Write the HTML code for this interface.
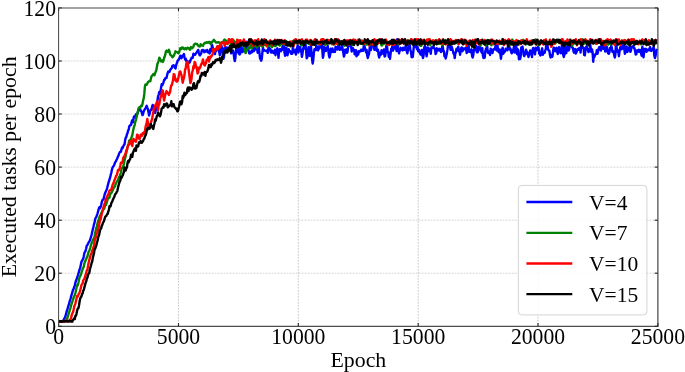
<!DOCTYPE html>
<html><head><meta charset="utf-8"><title>Executed tasks per epoch</title>
<style>html,body{margin:0;padding:0;background:#fff}svg{display:block}text{font-family:"Liberation Serif",serif;fill:#000}</style></head><body>
<svg width="685" height="372" viewBox="0 0 685 372">
<rect width="685" height="372" fill="#fff"/>
<g stroke="#bcbcbc" stroke-width="0.8" stroke-dasharray="1.8 1.2" fill="none"><line x1="178.46" y1="7.9" x2="178.46" y2="326.3"/><line x1="298.32" y1="7.9" x2="298.32" y2="326.3"/><line x1="418.18" y1="7.9" x2="418.18" y2="326.3"/><line x1="538.04" y1="7.9" x2="538.04" y2="326.3"/></g>
<g stroke="#c8c8c8" stroke-width="0.8" stroke-dasharray="1.8 1.2" fill="none"><line x1="58.6" y1="273.23" x2="657.9" y2="273.23"/><line x1="58.6" y1="220.17" x2="657.9" y2="220.17"/><line x1="58.6" y1="167.10" x2="657.9" y2="167.10"/><line x1="58.6" y1="114.03" x2="657.9" y2="114.03"/><line x1="58.6" y1="60.97" x2="657.9" y2="60.97"/></g>
<g clip-path="url(#c)"><polyline points="58.6,320.8 59.2,321.4 59.8,321.5 60.4,321.6 61.0,321.3 61.6,321.8 62.2,321.0 62.8,321.3 63.4,320.6 64.0,319.4 64.6,318.0 65.2,317.1 65.8,314.8 66.4,312.6 67.0,310.3 67.6,308.7 68.2,306.6 68.8,304.7 69.4,302.4 70.0,300.3 70.6,298.6 71.2,296.1 71.8,294.1 72.4,292.2 73.0,289.9 73.6,288.9 74.2,287.0 74.8,285.4 75.4,282.9 76.0,280.5 76.6,279.2 77.2,277.3 77.8,275.6 78.4,273.7 79.0,271.6 79.6,269.4 80.2,268.0 80.8,265.0 81.4,262.0 82.0,260.7 82.6,259.8 83.2,258.6 83.8,256.3 84.4,252.9 85.0,251.9 85.6,250.7 86.2,248.3 86.8,245.6 87.4,245.1 88.0,243.7 88.6,242.5 89.2,241.7 89.8,240.7 90.4,238.8 91.0,236.9 91.6,234.7 92.2,231.9 92.8,229.3 93.4,227.0 94.0,224.3 94.6,222.4 95.2,219.0 95.8,217.7 96.4,216.8 97.0,214.9 97.6,213.3 98.2,210.9 98.8,208.7 99.4,207.2 100.0,208.2 100.6,207.2 101.2,204.8 101.7,202.5 102.3,200.3 102.9,199.5 103.5,199.5 104.1,196.8 104.7,194.2 105.3,192.8 105.9,191.1 106.5,190.2 107.1,188.1 107.7,185.7 108.3,183.3 108.9,181.3 109.5,179.5 110.1,177.7 110.7,175.0 111.3,172.7 111.9,169.8 112.5,167.7 113.1,166.6 113.7,166.0 114.3,164.8 114.9,162.9 115.5,161.8 116.1,160.9 116.7,159.5 117.3,158.5 117.9,156.6 118.5,155.6 119.1,153.5 119.7,152.5 120.3,151.6 120.9,151.7 121.5,149.4 122.1,147.6 122.7,147.9 123.3,146.3 123.9,144.9 124.5,144.5 125.1,140.6 125.7,137.8 126.3,137.0 126.9,134.4 127.5,133.3 128.1,130.6 128.7,129.6 129.3,126.2 129.9,125.4 130.5,125.3 131.1,124.8 131.7,121.5 132.3,120.3 132.9,122.3 133.5,118.6 134.1,116.4 134.7,117.0 135.3,117.2 135.9,114.4 136.5,113.9 137.1,113.8 137.7,113.1 138.3,110.2 138.9,108.8 139.5,108.9 140.1,108.4 140.7,111.0 141.3,111.1 141.9,113.0 142.5,115.1 143.1,113.9 143.7,111.5 144.3,110.1 144.9,109.2 145.5,108.4 146.1,107.1 146.7,105.8 147.3,107.6 147.9,109.0 148.5,112.2 149.1,115.5 149.7,113.4 150.3,110.7 150.9,110.2 151.5,108.9 152.1,106.8 152.7,104.9 153.3,106.8 153.9,109.6 154.5,111.2 155.1,112.9 155.7,110.5 156.3,107.3 156.9,103.4 157.5,100.3 158.1,96.3 158.7,94.6 159.3,92.0 159.9,94.0 160.5,91.7 161.1,87.4 161.7,84.3 162.3,85.2 162.9,84.0 163.5,82.4 164.1,80.0 164.7,79.8 165.3,78.3 165.9,78.2 166.5,77.9 167.1,75.1 167.7,73.0 168.3,71.5 168.9,72.1 169.5,71.9 170.1,70.0 170.7,69.2 171.3,68.5 171.9,67.7 172.5,65.7 173.1,66.1 173.7,65.2 174.3,66.1 174.9,67.8 175.5,68.5 176.1,65.4 176.7,63.5 177.3,61.7 177.9,60.3 178.5,60.2 179.1,58.6 179.7,58.2 180.3,55.7 180.9,57.8 181.5,58.2 182.1,57.0 182.7,55.4 183.3,55.7 183.9,54.1 184.5,57.2 185.1,59.4 185.7,58.5 186.3,61.0 186.9,62.5 187.4,61.1 188.0,61.7 188.6,63.1 189.2,62.4 189.8,62.4 190.4,60.1 191.0,59.4 191.6,57.7 192.2,58.1 192.8,57.7 193.4,53.6 194.0,54.6 194.6,54.8 195.2,54.7 195.8,53.7 196.4,52.7 197.0,52.1 197.6,50.9 198.2,49.9 198.8,52.6 199.4,54.8 200.0,55.4 200.6,54.1 201.2,53.5 201.8,50.4 202.4,50.2 203.0,50.0 203.6,50.4 204.2,52.2 204.8,52.0 205.4,50.6 206.0,50.9 206.6,51.4 207.2,49.9 207.8,52.3 208.4,52.0 209.0,52.2 209.6,53.5 210.2,49.3 210.8,50.0 211.4,51.0 212.0,44.8 212.6,46.9 213.2,49.1 213.8,51.7 214.4,51.6 215.0,54.1 215.6,49.4 216.2,50.8 216.8,49.4 217.4,46.6 218.0,48.5 218.6,49.2 219.2,52.1 219.8,55.3 220.4,49.6 221.0,44.8 221.6,46.5 222.2,47.9 222.8,55.5 223.4,58.8 224.0,56.8 224.6,48.1 225.2,49.2 225.8,47.1 226.4,52.0 227.0,52.2 227.6,49.8 228.2,47.6 228.8,49.4 229.4,49.8 230.0,50.1 230.6,50.7 231.2,53.4 231.8,51.1 232.4,50.9 233.0,50.4 233.6,53.4 234.2,57.9 234.8,61.0 235.4,57.9 236.0,50.2 236.6,48.6 237.2,52.2 237.8,48.0 238.4,45.1 239.0,53.8 239.6,54.5 240.2,53.8 240.8,50.7 241.4,46.0 242.0,49.8 242.6,52.0 243.2,49.6 243.8,50.9 244.4,47.4 245.0,47.8 245.6,46.7 246.2,49.2 246.8,41.6 247.4,45.5 248.0,48.0 248.6,50.7 249.2,53.2 249.8,53.6 250.4,52.1 251.0,52.7 251.6,50.8 252.2,52.2 252.8,48.6 253.4,47.8 254.0,51.0 254.6,47.8 255.2,49.5 255.8,47.0 256.4,47.6 257.0,47.7 257.6,52.7 258.2,50.5 258.8,46.9 259.4,52.7 260.0,58.2 260.6,59.4 261.2,60.7 261.8,58.7 262.4,52.3 263.0,47.5 263.6,50.7 264.2,50.0 264.8,50.6 265.4,50.7 266.0,51.1 266.6,50.8 267.2,50.2 267.8,52.9 268.4,47.8 269.0,47.3 269.6,49.9 270.2,48.9 270.8,52.4 271.4,52.5 272.0,50.6 272.6,51.3 273.1,52.5 273.7,53.2 274.3,52.0 274.9,49.7 275.5,55.2 276.1,51.1 276.7,50.5 277.3,48.3 277.9,50.6 278.5,57.8 279.1,50.7 279.7,49.2 280.3,50.6 280.9,51.3 281.5,48.8 282.1,49.9 282.7,45.2 283.3,46.1 283.9,44.6 284.5,52.6 285.1,55.7 285.7,49.2 286.3,47.6 286.9,51.0 287.5,55.3 288.1,52.5 288.7,49.2 289.3,50.7 289.9,51.1 290.5,51.8 291.1,53.7 291.7,53.7 292.3,53.7 292.9,46.7 293.5,50.2 294.1,50.1 294.7,52.4 295.3,50.1 295.9,54.5 296.5,49.0 297.1,48.2 297.7,45.2 298.3,52.5 298.9,50.7 299.5,48.2 300.1,46.7 300.7,50.5 301.3,51.8 301.9,56.9 302.5,53.7 303.1,48.6 303.7,46.8 304.3,48.6 304.9,43.1 305.5,43.6 306.1,50.7 306.7,58.3 307.3,57.4 307.9,52.7 308.5,47.1 309.1,49.8 309.7,55.9 310.3,50.9 310.9,45.7 311.5,52.1 312.1,59.5 312.7,63.6 313.3,59.5 313.9,52.6 314.5,49.1 315.1,49.8 315.7,50.1 316.3,45.8 316.9,46.9 317.5,49.7 318.1,50.4 318.7,46.5 319.3,48.6 319.9,47.6 320.5,45.7 321.1,45.2 321.7,43.5 322.3,49.9 322.9,57.8 323.5,54.9 324.1,46.7 324.7,49.3 325.3,49.3 325.9,51.0 326.5,47.6 327.1,48.9 327.7,46.0 328.3,50.2 328.9,55.1 329.5,57.5 330.1,55.1 330.7,48.6 331.3,52.0 331.9,52.1 332.5,48.5 333.1,51.3 333.7,52.0 334.3,51.7 334.9,51.9 335.5,46.8 336.1,47.1 336.7,49.4 337.3,49.6 337.9,47.1 338.5,43.5 339.1,46.1 339.7,49.8 340.3,47.8 340.9,49.5 341.5,48.9 342.1,44.6 342.7,49.8 343.3,52.6 343.9,56.5 344.5,54.7 345.1,49.8 345.7,50.9 346.3,49.4 346.9,52.9 347.5,52.1 348.1,47.1 348.7,44.4 349.3,45.9 349.9,44.5 350.5,43.0 351.1,46.0 351.7,51.5 352.3,50.1 352.9,48.1 353.5,50.0 354.1,49.7 354.7,54.4 355.3,52.7 355.9,50.2 356.5,56.4 357.1,54.4 357.7,51.6 358.2,54.5 358.8,51.2 359.4,52.0 360.0,51.2 360.6,50.4 361.2,49.6 361.8,51.0 362.4,50.1 363.0,50.8 363.6,47.2 364.2,44.1 364.8,47.7 365.4,49.8 366.0,52.3 366.6,50.0 367.2,55.5 367.8,58.0 368.4,55.5 369.0,54.1 369.6,48.3 370.2,45.0 370.8,50.0 371.4,48.3 372.0,43.7 372.6,45.0 373.2,45.9 373.8,45.7 374.4,49.9 375.0,47.1 375.6,43.9 376.2,44.5 376.8,50.9 377.4,50.6 378.0,49.8 378.6,55.1 379.2,57.5 379.8,55.1 380.4,52.4 381.0,54.7 381.6,50.1 382.2,51.0 382.8,53.1 383.4,53.9 384.0,49.4 384.6,56.5 385.2,56.2 385.8,50.7 386.4,45.3 387.0,45.7 387.6,52.1 388.2,52.0 388.8,56.8 389.4,54.7 390.0,58.8 390.6,53.7 391.2,48.9 391.8,48.4 392.4,46.1 393.0,50.7 393.6,48.5 394.2,46.9 394.8,48.3 395.4,45.3 396.0,48.2 396.6,51.0 397.2,39.2 397.8,44.8 398.4,49.8 399.0,53.4 399.6,50.7 400.2,50.4 400.8,47.8 401.4,49.6 402.0,48.8 402.6,50.4 403.2,47.7 403.8,48.2 404.4,49.8 405.0,49.4 405.6,46.0 406.2,47.0 406.8,51.6 407.4,53.3 408.0,49.7 408.6,46.3 409.2,47.5 409.8,45.1 410.4,50.4 411.0,51.5 411.6,57.1 412.2,57.2 412.8,56.9 413.4,50.9 414.0,44.2 414.6,47.2 415.2,44.9 415.8,45.9 416.4,46.6 417.0,49.2 417.6,46.7 418.2,51.3 418.8,49.6 419.4,52.3 420.0,52.8 420.6,54.5 421.2,51.8 421.8,50.0 422.4,55.5 423.0,58.0 423.6,55.5 424.2,47.9 424.8,45.9 425.4,47.1 426.0,52.3 426.6,56.3 427.2,52.7 427.8,47.4 428.4,51.1 429.0,48.4 429.6,50.4 430.2,50.2 430.8,53.7 431.4,47.5 432.0,48.2 432.6,46.9 433.2,47.8 433.8,47.2 434.4,48.7 435.0,48.6 435.6,54.1 436.2,53.2 436.8,48.3 437.4,49.3 438.0,50.4 438.6,49.9 439.2,48.7 439.8,50.5 440.4,49.2 441.0,52.1 441.6,50.7 442.2,46.2 442.8,46.6 443.4,51.3 443.9,50.9 444.5,56.3 445.1,55.9 445.7,58.6 446.3,55.9 446.9,53.1 447.5,49.4 448.1,44.9 448.7,44.8 449.3,43.5 449.9,45.2 450.5,49.7 451.1,49.8 451.7,46.6 452.3,48.8 452.9,50.9 453.5,53.6 454.1,52.8 454.7,58.0 455.3,53.6 455.9,52.2 456.5,48.6 457.1,50.7 457.7,49.9 458.3,46.7 458.9,51.4 459.5,50.8 460.1,54.7 460.7,50.4 461.3,47.7 461.9,47.4 462.5,51.3 463.1,49.1 463.7,48.4 464.3,49.3 464.9,48.8 465.5,47.8 466.1,48.8 466.7,53.0 467.3,51.9 467.9,41.8 468.5,43.2 469.1,51.9 469.7,51.9 470.3,52.1 470.9,50.0 471.5,49.3 472.1,56.1 472.7,57.6 473.3,54.9 473.9,49.7 474.5,50.3 475.1,49.4 475.7,45.8 476.3,46.1 476.9,52.4 477.5,52.3 478.1,51.3 478.7,46.6 479.3,47.8 479.9,45.8 480.5,49.9 481.1,50.8 481.7,52.5 482.3,48.1 482.9,55.5 483.5,58.0 484.1,55.5 484.7,57.7 485.3,51.2 485.9,49.0 486.5,47.6 487.1,45.3 487.7,52.2 488.3,53.0 488.9,51.7 489.5,51.4 490.1,55.0 490.7,48.7 491.3,50.3 491.9,50.8 492.5,53.0 493.1,49.6 493.7,49.0 494.3,49.5 494.9,49.2 495.5,45.9 496.1,49.2 496.7,50.5 497.3,43.6 497.9,49.2 498.5,51.8 499.1,52.4 499.7,49.5 500.3,53.2 500.9,58.7 501.5,54.9 502.1,49.5 502.7,47.7 503.3,53.8 503.9,52.5 504.5,50.9 505.1,51.4 505.7,48.6 506.3,48.9 506.9,49.2 507.5,50.3 508.1,45.7 508.7,47.5 509.3,46.2 509.9,49.5 510.5,48.7 511.1,51.8 511.7,53.3 512.3,52.3 512.9,50.4 513.5,49.1 514.1,46.1 514.7,52.5 515.3,52.3 515.9,45.0 516.5,47.9 517.1,54.2 517.7,49.3 518.3,50.1 518.9,59.2 519.5,56.2 520.1,59.1 520.7,56.2 521.3,47.4 521.9,47.9 522.5,46.6 523.1,49.9 523.7,55.0 524.3,56.1 524.9,52.2 525.5,54.3 526.1,49.8 526.7,52.5 527.3,52.0 527.9,54.8 528.5,57.0 529.1,54.8 529.6,54.2 530.2,50.4 530.8,53.1 531.4,53.1 532.0,57.1 532.6,49.7 533.2,48.0 533.8,51.2 534.4,52.0 535.0,54.4 535.6,47.8 536.2,50.3 536.8,48.2 537.4,49.4 538.0,46.9 538.6,47.8 539.2,53.3 539.8,54.3 540.4,55.5 541.0,54.1 541.6,50.6 542.2,48.3 542.8,54.8 543.4,52.7 544.0,53.0 544.6,52.9 545.2,50.3 545.8,49.4 546.4,42.9 547.0,46.3 547.6,46.2 548.2,49.6 548.8,50.7 549.4,50.6 550.0,55.1 550.6,57.5 551.2,55.1 551.8,55.5 552.4,56.7 553.0,52.2 553.6,47.6 554.2,47.8 554.8,49.7 555.4,51.2 556.0,49.2 556.6,47.8 557.2,51.9 557.8,54.0 558.4,52.0 559.0,47.3 559.6,50.0 560.2,52.3 560.8,53.2 561.4,49.4 562.0,44.2 562.6,47.0 563.2,54.8 563.8,57.0 564.4,54.8 565.0,44.0 565.6,51.0 566.2,53.2 566.8,50.2 567.4,46.4 568.0,47.7 568.6,50.6 569.2,49.3 569.8,46.1 570.4,45.1 571.0,41.4 571.6,44.7 572.2,47.4 572.8,47.8 573.4,50.8 574.0,52.5 574.6,49.4 575.2,49.0 575.8,53.6 576.4,52.3 577.0,50.8 577.6,49.2 578.2,49.8 578.8,48.4 579.4,48.2 580.0,47.7 580.6,52.5 581.2,45.0 581.8,44.3 582.4,47.9 583.0,47.2 583.6,47.9 584.2,54.9 584.8,55.3 585.4,50.7 586.0,47.4 586.6,46.2 587.2,48.5 587.8,49.8 588.4,52.0 589.0,51.5 589.6,49.9 590.2,44.8 590.8,48.4 591.4,52.0 592.0,49.3 592.6,52.0 593.2,61.8 593.8,56.1 594.4,57.0 595.0,54.8 595.6,53.9 596.2,54.1 596.8,50.3 597.4,53.8 598.0,51.8 598.6,48.9 599.2,47.1 599.8,47.0 600.4,49.7 601.0,50.6 601.6,45.1 602.2,48.6 602.8,45.1 603.4,48.7 604.0,45.8 604.6,46.4 605.2,51.5 605.8,48.7 606.4,46.6 607.0,47.1 607.6,51.9 608.2,53.3 608.8,53.8 609.4,52.5 610.0,48.0 610.6,49.5 611.2,45.6 611.8,47.5 612.4,51.8 613.0,50.9 613.6,52.1 614.2,55.1 614.8,57.5 615.3,55.1 615.9,45.6 616.5,46.5 617.1,51.5 617.7,50.4 618.3,51.3 618.9,56.2 619.5,51.8 620.1,48.2 620.7,46.5 621.3,49.4 621.9,47.0 622.5,48.7 623.1,45.7 623.7,43.6 624.3,48.9 624.9,53.8 625.5,51.0 626.1,47.1 626.7,46.4 627.3,52.1 627.9,50.8 628.5,48.7 629.1,47.5 629.7,47.3 630.3,51.9 630.9,50.7 631.5,46.7 632.1,47.4 632.7,47.2 633.3,45.9 633.9,48.1 634.5,48.2 635.1,51.0 635.7,54.6 636.3,54.2 636.9,50.4 637.5,50.5 638.1,51.4 638.7,49.8 639.3,51.8 639.9,49.9 640.5,50.1 641.1,53.6 641.7,55.7 642.3,46.8 642.9,49.5 643.5,57.3 644.1,52.4 644.7,48.9 645.3,49.5 645.9,48.8 646.5,51.8 647.1,49.8 647.7,49.7 648.3,50.3 648.9,50.2 649.5,48.5 650.1,47.1 650.7,50.7 651.3,51.0 651.9,49.5 652.5,49.5 653.1,48.0 653.7,47.3 654.3,55.5 654.9,58.0 655.5,56.2 656.1,52.2 656.7,48.7" fill="none" stroke="#0000ff" stroke-width="2.4" stroke-linejoin="round" stroke-linecap="butt"/>
<polyline points="58.6,321.4 59.2,321.6 59.8,321.7 60.4,321.2 61.0,321.7 61.6,321.6 62.2,321.4 62.8,321.7 63.4,321.8 64.0,321.6 64.6,321.0 65.2,320.6 65.8,320.9 66.4,320.2 67.0,318.8 67.6,317.5 68.2,315.3 68.8,313.1 69.4,311.4 70.0,309.4 70.6,307.5 71.2,305.3 71.8,303.2 72.4,301.4 73.0,299.7 73.6,297.7 74.2,296.2 74.8,294.9 75.4,293.0 76.0,290.3 76.6,287.5 77.2,285.2 77.8,285.2 78.4,282.7 79.0,279.7 79.6,277.3 80.2,276.1 80.8,275.2 81.4,273.0 82.0,270.9 82.6,269.3 83.2,267.8 83.8,266.7 84.4,263.3 85.0,261.3 85.6,260.6 86.2,258.9 86.8,257.6 87.4,256.4 88.0,254.0 88.6,251.8 89.2,250.8 89.8,249.4 90.4,247.3 91.0,245.0 91.6,243.1 92.2,242.1 92.8,240.2 93.4,239.0 94.0,238.4 94.6,236.2 95.2,233.1 95.8,230.2 96.4,227.9 97.0,226.2 97.6,222.9 98.2,220.7 98.8,219.7 99.4,217.2 100.0,215.7 100.6,214.9 101.2,213.4 101.7,212.4 102.3,211.5 102.9,210.2 103.5,208.6 104.1,208.9 104.7,206.8 105.3,205.1 105.9,205.0 106.5,203.2 107.1,201.1 107.7,199.1 108.3,197.9 108.9,198.1 109.5,197.4 110.1,194.7 110.7,193.4 111.3,193.2 111.9,192.0 112.5,190.6 113.1,189.4 113.7,188.0 114.3,186.9 114.9,186.7 115.5,184.5 116.1,183.1 116.7,182.0 117.3,180.9 117.9,180.7 118.5,178.2 119.1,176.9 119.7,176.4 120.3,174.7 120.9,172.5 121.5,169.1 122.1,167.9 122.7,167.4 123.3,166.2 123.9,163.7 124.5,160.8 125.1,158.3 125.7,155.8 126.3,152.8 126.9,149.8 127.5,147.2 128.1,145.6 128.7,143.3 129.3,140.5 129.9,141.5 130.5,140.7 131.1,138.3 131.7,136.9 132.3,135.1 132.9,131.9 133.5,128.6 134.1,126.7 134.7,124.8 135.3,121.7 135.9,120.1 136.5,117.4 137.1,114.9 137.7,112.6 138.3,109.1 138.9,107.7 139.5,107.3 140.1,107.9 140.7,106.3 141.3,105.5 141.9,106.0 142.5,103.9 143.1,100.6 143.7,98.3 144.3,93.9 144.9,86.5 145.5,84.4 146.1,84.4 146.7,84.7 147.3,83.5 147.9,82.2 148.5,81.5 149.1,81.2 149.7,81.4 150.3,81.2 150.9,78.5 151.5,76.4 152.1,75.6 152.7,75.2 153.3,74.1 153.9,75.1 154.5,75.2 155.1,73.1 155.7,71.7 156.3,70.2 156.9,66.7 157.5,63.6 158.1,62.5 158.7,60.5 159.3,57.7 159.9,58.5 160.5,59.7 161.1,61.4 161.7,60.8 162.3,60.4 162.9,61.9 163.5,60.5 164.1,58.0 164.7,56.5 165.3,54.6 165.9,51.4 166.5,50.6 167.1,51.4 167.7,51.8 168.3,50.7 168.9,49.8 169.5,51.4 170.1,54.4 170.7,55.2 171.3,55.5 171.9,56.3 172.5,57.3 173.1,56.4 173.7,56.0 174.3,54.5 174.9,53.1 175.5,51.3 176.1,51.8 176.7,52.1 177.3,52.2 177.9,52.9 178.5,53.2 179.1,52.1 179.7,50.3 180.3,48.2 180.9,48.2 181.5,48.9 182.1,47.5 182.7,47.4 183.3,48.6 183.9,49.0 184.5,49.3 185.1,48.2 185.7,48.3 186.3,49.2 186.9,48.5 187.4,47.8 188.0,48.2 188.6,48.0 189.2,48.4 189.8,49.8 190.4,49.3 191.0,47.1 191.6,47.7 192.2,48.2 192.8,47.5 193.4,46.8 194.0,44.6 194.6,44.1 195.2,43.7 195.8,43.8 196.4,44.0 197.0,43.9 197.6,44.7 198.2,45.8 198.8,46.2 199.4,46.5 200.0,46.4 200.6,44.2 201.2,45.1 201.8,45.1 202.4,45.7 203.0,45.9 203.6,44.2 204.2,43.5 204.8,43.0 205.4,42.6 206.0,43.0 206.6,42.4 207.2,42.1 207.8,42.7 208.4,42.6 209.0,41.9 209.6,41.9 210.2,42.9 210.8,44.2 211.4,42.7 212.0,41.6 212.6,41.7 213.2,40.8 213.8,39.8 214.4,40.6 215.0,41.2 215.6,42.3 216.2,42.6 216.8,42.5 217.4,42.5 218.0,42.1 218.6,42.3 219.2,42.4 219.8,43.4 220.4,43.7 221.0,43.0 221.6,42.9 222.2,42.6 222.8,42.3 223.4,41.6 224.0,40.1 224.6,39.5 225.2,40.4 225.8,40.9 226.4,40.7 227.0,43.3 227.6,44.1 228.2,42.0 228.8,41.4 229.4,41.6 230.0,42.2 230.6,43.7 231.2,42.9 231.8,40.3 232.4,40.2 233.0,41.0 233.6,40.3 234.2,42.1 234.8,42.4 235.4,42.0 236.0,42.9 236.6,42.6 237.2,42.1 237.8,41.7 238.4,40.6 239.0,41.1 239.6,42.8 240.2,42.7 240.8,41.7 241.4,42.8 242.0,44.1 242.6,43.9 243.2,44.5 243.8,46.2 244.4,47.3 245.0,51.1 245.6,53.1 246.2,51.2 246.8,50.1 247.4,49.1 248.0,48.4 248.6,47.8 249.2,47.4 249.8,48.2 250.4,46.1 251.0,43.2 251.6,45.7 252.2,48.0 252.8,46.3 253.4,44.9 254.0,44.6 254.6,45.8 255.2,46.3 255.8,44.8 256.4,45.7 257.0,47.5 257.6,46.3 258.2,45.7 258.8,45.3 259.4,45.8 260.0,45.5 260.6,45.4 261.2,45.5 261.8,46.1 262.4,46.6 263.0,46.0 263.6,45.3 264.2,44.8 264.8,44.1 265.4,44.7 266.0,44.3 266.6,43.5 267.2,44.7 267.8,45.5 268.4,46.1 269.0,45.2 269.6,43.8 270.2,44.0 270.8,44.3 271.4,46.5 272.0,47.2 272.6,46.2 273.1,45.5 273.7,42.5 274.3,43.3 274.9,46.0 275.5,46.0 276.1,45.5 276.7,44.8 277.3,44.4 277.9,43.3 278.5,42.9 279.1,44.8 279.7,45.7 280.3,44.5 280.9,44.0 281.5,43.4 282.1,43.7 282.7,43.4 283.3,43.7 283.9,44.5 284.5,44.4 285.1,42.5 285.7,40.8 286.3,42.1 286.9,43.4 287.5,43.2 288.1,44.0 288.7,45.0 289.3,43.4 289.9,42.2 290.5,43.9 291.1,44.8 291.7,42.9 292.3,41.2 292.9,41.5 293.5,41.2 294.1,40.1 294.7,40.6 295.3,42.2 295.9,43.3 296.5,43.4 297.1,43.1 297.7,42.9 298.3,43.2 298.9,42.0 299.5,42.6 300.1,43.2 300.7,43.4 301.3,45.3 301.9,45.1 302.5,43.8 303.1,42.7 303.7,42.6 304.3,41.9 304.9,42.6 305.5,42.9 306.1,42.9 306.7,42.1 307.3,42.4 307.9,42.6 308.5,43.5 309.1,44.2 309.7,42.9 310.3,42.0 310.9,43.9 311.5,44.8 312.1,43.3 312.7,42.4 313.3,43.7 313.9,43.6 314.5,42.8 315.1,42.8 315.7,42.0 316.3,41.3 316.9,42.2 317.5,42.4 318.1,41.9 318.7,42.8 319.3,44.1 319.9,44.6 320.5,43.4 321.1,41.1 321.7,41.7 322.3,41.8 322.9,42.1 323.5,43.1 324.1,42.6 324.7,43.8 325.3,45.1 325.9,44.2 326.5,44.0 327.1,43.3 327.7,41.5 328.3,40.3 328.9,42.3 329.5,42.9 330.1,42.2 330.7,42.4 331.3,43.2 331.9,44.2 332.5,44.2 333.1,43.7 333.7,44.2 334.3,44.3 334.9,43.7 335.5,42.6 336.1,42.9 336.7,41.5 337.3,42.9 337.9,44.5 338.5,44.0 339.1,41.9 339.7,41.6 340.3,43.0 340.9,42.7 341.5,42.8 342.1,42.9 342.7,42.3 343.3,42.6 343.9,45.2 344.5,45.7 345.1,43.4 345.7,42.3 346.3,42.7 346.9,44.5 347.5,43.7 348.1,42.0 348.7,43.2 349.3,43.1 349.9,43.5 350.5,44.0 351.1,43.7 351.7,42.8 352.3,44.6 352.9,45.0 353.5,43.6 354.1,41.7 354.7,41.5 355.3,41.8 355.9,42.3 356.5,42.2 357.1,41.4 357.7,40.7 358.2,42.3 358.8,43.6 359.4,42.0 360.0,42.5 360.6,43.8 361.2,43.7 361.8,42.8 362.4,41.0 363.0,42.9 363.6,44.7 364.2,43.5 364.8,42.8 365.4,41.6 366.0,42.7 366.6,44.6 367.2,44.3 367.8,44.3 368.4,44.1 369.0,44.4 369.6,44.9 370.2,43.6 370.8,43.8 371.4,43.6 372.0,41.4 372.6,40.6 373.2,41.7 373.8,41.8 374.4,43.8 375.0,43.1 375.6,43.0 376.2,43.3 376.8,43.9 377.4,43.8 378.0,43.3 378.6,42.9 379.2,41.4 379.8,40.3 380.4,42.4 381.0,43.8 381.6,45.5 382.2,45.4 382.8,42.8 383.4,43.7 384.0,43.9 384.6,42.5 385.2,41.5 385.8,41.1 386.4,40.6 387.0,42.8 387.6,44.5 388.2,43.2 388.8,42.8 389.4,43.5 390.0,43.5 390.6,42.6 391.2,41.3 391.8,43.1 392.4,44.2 393.0,43.6 393.6,44.2 394.2,42.7 394.8,42.3 395.4,43.5 396.0,43.8 396.6,42.8 397.2,41.0 397.8,42.0 398.4,44.2 399.0,44.4 399.6,43.2 400.2,43.0 400.8,43.3 401.4,42.7 402.0,42.2 402.6,41.4 403.2,41.7 403.8,42.4 404.4,42.9 405.0,43.1 405.6,41.9 406.2,42.0 406.8,42.8 407.4,42.9 408.0,42.1 408.6,40.4 409.2,41.8 409.8,42.1 410.4,42.3 411.0,43.3 411.6,43.0 412.2,42.8 412.8,42.3 413.4,41.9 414.0,41.3 414.6,41.6 415.2,42.9 415.8,43.5 416.4,43.8 417.0,44.4 417.6,44.5 418.2,42.7 418.8,42.5 419.4,43.5 420.0,45.0 420.6,45.9 421.2,45.9 421.8,43.4 422.4,41.7 423.0,41.7 423.6,42.9 424.2,43.7 424.8,43.0 425.4,42.3 426.0,41.5 426.6,41.6 427.2,42.5 427.8,42.4 428.4,41.7 429.0,41.9 429.6,43.5 430.2,45.2 430.8,43.8 431.4,41.9 432.0,41.7 432.6,41.7 433.2,42.5 433.8,42.3 434.4,41.4 435.0,41.4 435.6,41.4 436.2,40.7 436.8,40.1 437.4,41.2 438.0,43.9 438.6,43.9 439.2,43.3 439.8,43.8 440.4,43.9 441.0,42.3 441.6,43.0 442.2,43.9 442.8,45.2 443.4,44.2 443.9,43.4 444.5,43.3 445.1,41.2 445.7,40.1 446.3,42.8 446.9,43.1 447.5,40.9 448.1,41.4 448.7,43.2 449.3,43.7 449.9,42.2 450.5,41.4 451.1,41.2 451.7,42.9 452.3,43.2 452.9,43.0 453.5,42.5 454.1,41.2 454.7,41.5 455.3,42.9 455.9,43.0 456.5,42.5 457.1,41.8 457.7,42.8 458.3,43.9 458.9,43.4 459.5,42.4 460.1,41.1 460.7,40.3 461.3,40.5 461.9,41.8 462.5,42.7 463.1,42.2 463.7,42.8 464.3,43.2 464.9,42.3 465.5,41.6 466.1,41.9 466.7,43.8 467.3,44.4 467.9,43.1 468.5,42.9 469.1,42.4 469.7,43.5 470.3,44.4 470.9,43.8 471.5,41.4 472.1,42.2 472.7,43.1 473.3,43.2 473.9,42.7 474.5,41.8 475.1,42.1 475.7,42.0 476.3,41.9 476.9,43.0 477.5,41.3 478.1,41.0 478.7,43.2 479.3,43.4 479.9,44.7 480.5,45.6 481.1,44.1 481.7,42.1 482.3,41.7 482.9,43.0 483.5,43.8 484.1,43.7 484.7,43.8 485.3,44.5 485.9,45.4 486.5,43.9 487.1,41.9 487.7,40.1 488.3,41.0 488.9,42.4 489.5,42.4 490.1,42.5 490.7,44.0 491.3,45.3 491.9,44.3 492.5,43.1 493.1,42.8 493.7,43.6 494.3,43.9 494.9,43.2 495.5,42.4 496.1,42.0 496.7,42.4 497.3,42.6 497.9,43.1 498.5,42.2 499.1,42.8 499.7,44.1 500.3,43.3 500.9,43.0 501.5,43.3 502.1,42.4 502.7,42.4 503.3,42.6 503.9,43.3 504.5,42.3 505.1,41.9 505.7,42.8 506.3,43.2 506.9,43.1 507.5,42.4 508.1,42.2 508.7,42.0 509.3,42.9 509.9,44.4 510.5,44.6 511.1,43.4 511.7,41.3 512.3,39.6 512.9,41.0 513.5,43.7 514.1,44.7 514.7,42.8 515.3,42.8 515.9,43.4 516.5,42.1 517.1,42.3 517.7,43.8 518.3,44.3 518.9,42.3 519.5,42.2 520.1,43.2 520.7,43.8 521.3,42.8 521.9,41.2 522.5,40.6 523.1,39.8 523.7,40.4 524.3,41.3 524.9,41.4 525.5,42.6 526.1,44.2 526.7,43.6 527.3,42.8 527.9,43.6 528.5,44.0 529.1,43.3 529.6,41.8 530.2,43.6 530.8,44.5 531.4,43.5 532.0,41.4 532.6,41.2 533.2,42.4 533.8,42.5 534.4,43.2 535.0,41.8 535.6,39.4 536.2,40.5 536.8,42.7 537.4,44.0 538.0,43.9 538.6,44.9 539.2,45.1 539.8,42.5 540.4,41.6 541.0,41.6 541.6,42.1 542.2,43.2 542.8,42.2 543.4,42.9 544.0,42.4 544.6,41.4 545.2,40.3 545.8,39.8 546.4,41.4 547.0,43.2 547.6,43.7 548.2,43.0 548.8,43.8 549.4,44.3 550.0,43.0 550.6,42.0 551.2,43.0 551.8,43.6 552.4,43.3 553.0,44.3 553.6,44.0 554.2,41.5 554.8,40.8 555.4,40.9 556.0,42.7 556.6,42.1 557.2,41.1 557.8,39.8 558.4,41.8 559.0,42.8 559.6,42.1 560.2,42.3 560.8,42.5 561.4,41.4 562.0,41.0 562.6,41.1 563.2,42.0 563.8,43.3 564.4,43.2 565.0,42.5 565.6,42.5 566.2,41.1 566.8,42.1 567.4,42.8 568.0,41.7 568.6,41.6 569.2,41.1 569.8,41.0 570.4,40.7 571.0,43.0 571.6,45.5 572.2,45.6 572.8,44.5 573.4,41.8 574.0,40.4 574.6,42.5 575.2,43.6 575.8,42.1 576.4,41.9 577.0,42.5 577.6,42.2 578.2,42.8 578.8,43.4 579.4,42.4 580.0,43.1 580.6,43.7 581.2,42.4 581.8,40.1 582.4,39.2 583.0,40.4 583.6,42.8 584.2,43.6 584.8,42.6 585.4,42.4 586.0,42.8 586.6,43.9 587.2,44.3 587.8,43.6 588.4,41.6 589.0,41.3 589.6,42.5 590.2,41.9 590.8,41.8 591.4,42.9 592.0,42.4 592.6,42.0 593.2,42.6 593.8,41.7 594.4,42.1 595.0,42.6 595.6,43.3 596.2,43.9 596.8,42.7 597.4,42.5 598.0,43.0 598.6,42.7 599.2,42.2 599.8,42.6 600.4,43.0 601.0,42.3 601.6,41.6 602.2,42.4 602.8,42.9 603.4,42.0 604.0,42.2 604.6,42.0 605.2,42.7 605.8,44.0 606.4,44.5 607.0,44.0 607.6,44.0 608.2,44.7 608.8,42.5 609.4,41.2 610.0,42.7 610.6,44.4 611.2,44.5 611.8,42.7 612.4,41.9 613.0,41.9 613.6,42.0 614.2,42.9 614.8,42.9 615.3,42.3 615.9,42.3 616.5,41.8 617.1,41.8 617.7,42.9 618.3,43.8 618.9,43.1 619.5,42.1 620.1,43.2 620.7,43.3 621.3,42.5 621.9,40.7 622.5,41.9 623.1,42.4 623.7,41.8 624.3,40.1 624.9,42.3 625.5,43.1 626.1,43.2 626.7,42.6 627.3,43.6 627.9,44.1 628.5,44.4 629.1,43.5 629.7,41.9 630.3,41.6 630.9,43.9 631.5,42.8 632.1,42.4 632.7,43.1 633.3,42.7 633.9,42.1 634.5,42.3 635.1,42.8 635.7,43.4 636.3,42.9 636.9,42.5 637.5,43.4 638.1,43.3 638.7,42.4 639.3,41.9 639.9,42.0 640.5,43.3 641.1,44.3 641.7,42.0 642.3,40.6 642.9,40.6 643.5,41.2 644.1,41.5 644.7,42.8 645.3,43.8 645.9,43.2 646.5,42.3 647.1,41.1 647.7,41.4 648.3,42.8 648.9,43.1 649.5,42.6 650.1,41.8 650.7,41.1 651.3,41.8 651.9,41.9 652.5,43.6 653.1,43.0 653.7,40.8 654.3,41.3 654.9,41.9 655.5,41.9 656.1,42.4 656.7,42.4" fill="none" stroke="#008000" stroke-width="2.4" stroke-linejoin="round" stroke-linecap="butt"/>
<polyline points="58.6,320.7 59.2,321.0 59.8,321.3 60.4,321.8 61.0,321.5 61.6,321.4 62.2,321.3 62.8,321.5 63.4,321.3 64.0,321.5 64.6,321.6 65.2,321.0 65.8,320.8 66.4,320.7 67.0,321.2 67.6,321.4 68.2,321.5 68.8,321.7 69.4,320.8 70.0,320.1 70.6,319.1 71.2,317.4 71.8,314.9 72.4,313.2 73.0,312.1 73.6,309.7 74.2,306.7 74.8,305.1 75.4,303.6 76.0,301.0 76.6,298.2 77.2,295.9 77.8,296.5 78.4,294.8 79.0,293.5 79.6,292.8 80.2,290.3 80.8,288.2 81.4,285.1 82.0,284.3 82.6,283.6 83.2,280.6 83.8,279.5 84.4,278.9 85.0,276.6 85.6,274.8 86.2,273.0 86.8,270.5 87.4,269.6 88.0,266.1 88.6,262.7 89.2,260.4 89.8,258.1 90.4,255.8 91.0,253.8 91.6,253.3 92.2,250.4 92.8,249.9 93.4,247.4 94.0,245.6 94.6,241.3 95.2,238.7 95.8,237.4 96.4,234.3 97.0,233.5 97.6,230.9 98.2,228.6 98.8,227.0 99.4,223.4 100.0,220.2 100.6,219.6 101.2,216.5 101.7,214.4 102.3,211.1 102.9,209.5 103.5,207.3 104.1,205.1 104.7,203.4 105.3,202.0 105.9,198.8 106.5,199.0 107.1,196.8 107.7,195.1 108.3,194.7 108.9,192.7 109.5,190.6 110.1,190.2 110.7,190.0 111.3,189.9 111.9,187.3 112.5,185.3 113.1,183.8 113.7,182.6 114.3,180.3 114.9,179.4 115.5,177.6 116.1,175.8 116.7,175.4 117.3,173.4 117.9,170.2 118.5,169.8 119.1,170.1 119.7,168.0 120.3,165.7 120.9,162.7 121.5,162.8 122.1,162.7 122.7,161.2 123.3,157.7 123.9,156.5 124.5,156.2 125.1,154.5 125.7,153.0 126.3,150.3 126.9,150.3 127.5,147.4 128.1,145.2 128.7,144.6 129.3,144.6 129.9,140.9 130.5,141.6 131.1,141.0 131.7,143.7 132.3,146.0 132.9,141.6 133.5,138.8 134.1,139.6 134.7,139.8 135.3,141.4 135.9,141.7 136.5,139.0 137.1,134.7 137.7,134.9 138.3,138.1 138.9,138.2 139.5,139.1 140.1,137.6 140.7,134.6 141.3,135.3 141.9,135.9 142.5,133.4 143.1,132.9 143.7,133.9 144.3,131.9 144.9,131.5 145.5,127.3 146.1,124.9 146.7,122.9 147.3,119.0 147.9,122.8 148.5,127.6 149.1,125.3 149.7,126.7 150.3,124.2 150.9,122.6 151.5,120.6 152.1,119.0 152.7,115.4 153.3,112.0 153.9,107.8 154.5,108.0 155.1,105.7 155.7,104.5 156.3,104.9 156.9,101.7 157.5,106.7 158.1,110.0 158.7,104.4 159.3,104.5 159.9,100.4 160.5,97.3 161.1,96.5 161.7,93.4 162.3,90.2 162.9,90.9 163.5,97.0 164.1,100.5 164.7,97.4 165.3,94.4 165.9,93.3 166.5,91.1 167.1,92.0 167.7,93.4 168.3,93.1 168.9,94.9 169.5,93.2 170.1,91.9 170.7,87.9 171.3,85.4 171.9,85.1 172.5,82.3 173.1,79.9 173.7,74.3 174.3,74.4 174.9,76.9 175.5,80.5 176.1,79.4 176.7,81.6 177.3,81.5 177.9,80.1 178.5,77.3 179.1,74.2 179.7,71.7 180.3,71.4 180.9,73.4 181.5,75.2 182.1,78.6 182.7,82.7 183.3,79.8 183.9,78.1 184.5,75.1 185.1,69.3 185.7,68.7 186.3,63.6 186.9,63.5 187.4,61.8 188.0,64.6 188.6,69.8 189.2,73.7 189.8,78.6 190.4,83.0 191.0,81.5 191.6,78.2 192.2,72.1 192.8,70.4 193.4,66.1 194.0,68.2 194.6,62.0 195.2,62.4 195.8,65.7 196.4,66.5 197.0,69.6 197.6,73.5 198.2,72.8 198.8,67.6 199.4,68.7 200.0,67.6 200.6,66.4 201.2,64.1 201.8,63.6 202.4,61.9 203.0,59.4 203.6,62.4 204.2,64.8 204.8,65.5 205.4,63.8 206.0,63.3 206.6,59.9 207.2,59.5 207.8,58.9 208.4,57.1 209.0,61.5 209.6,59.0 210.2,56.7 210.8,57.2 211.4,55.9 212.0,55.7 212.6,54.2 213.2,49.0 213.8,50.7 214.4,51.3 215.0,49.2 215.6,50.1 216.2,48.4 216.8,47.8 217.4,46.2 218.0,49.2 218.6,46.3 219.2,46.3 219.8,47.4 220.4,44.5 221.0,45.6 221.6,42.3 222.2,42.8 222.8,42.6 223.4,43.0 224.0,42.6 224.6,45.9 225.2,43.9 225.8,43.9 226.4,42.7 227.0,42.6 227.6,42.0 228.2,43.1 228.8,39.2 229.4,39.2 230.0,41.7 230.6,42.0 231.2,41.0 231.8,39.2 232.4,39.2 233.0,43.4 233.6,43.6 234.2,44.1 234.8,44.5 235.4,44.7 236.0,42.2 236.6,43.1 237.2,39.6 237.8,40.3 238.4,43.5 239.0,44.0 239.6,42.7 240.2,40.1 240.8,43.2 241.4,44.5 242.0,42.3 242.6,41.5 243.2,42.3 243.8,39.4 244.4,40.8 245.0,41.3 245.6,43.1 246.2,42.2 246.8,42.8 247.4,45.4 248.0,42.7 248.6,44.6 249.2,42.9 249.8,43.6 250.4,39.2 251.0,40.4 251.6,40.1 252.2,40.5 252.8,44.4 253.4,46.0 254.0,42.8 254.6,40.5 255.2,41.2 255.8,40.3 256.4,40.6 257.0,43.8 257.6,41.2 258.2,39.2 258.8,42.8 259.4,45.3 260.0,43.0 260.6,42.5 261.2,41.6 261.8,43.1 262.4,42.7 263.0,45.1 263.6,40.7 264.2,39.2 264.8,39.8 265.4,43.7 266.0,42.8 266.6,46.4 267.2,42.4 267.8,42.2 268.4,43.3 269.0,41.6 269.6,41.2 270.2,40.3 270.8,41.3 271.4,42.0 272.0,45.2 272.6,44.4 273.1,42.9 273.7,41.5 274.3,41.3 274.9,39.7 275.5,42.8 276.1,42.4 276.7,41.6 277.3,42.0 277.9,41.3 278.5,42.1 279.1,39.9 279.7,41.5 280.3,40.2 280.9,41.1 281.5,39.9 282.1,43.4 282.7,41.6 283.3,42.3 283.9,41.2 284.5,40.2 285.1,43.7 285.7,44.6 286.3,43.7 286.9,42.3 287.5,44.7 288.1,42.7 288.7,44.2 289.3,44.2 289.9,42.7 290.5,41.5 291.1,42.9 291.7,42.8 292.3,42.1 292.9,43.1 293.5,46.3 294.1,43.3 294.7,41.5 295.3,39.4 295.9,39.2 296.5,40.1 297.1,41.8 297.7,43.3 298.3,41.7 298.9,40.2 299.5,39.9 300.1,42.7 300.7,41.5 301.3,39.9 301.9,39.2 302.5,41.0 303.1,42.8 303.7,43.2 304.3,42.8 304.9,42.7 305.5,40.4 306.1,39.6 306.7,40.0 307.3,39.8 307.9,42.0 308.5,41.5 309.1,42.3 309.7,41.5 310.3,39.9 310.9,42.1 311.5,44.9 312.1,43.0 312.7,43.5 313.3,44.7 313.9,43.2 314.5,40.0 315.1,39.2 315.7,41.7 316.3,40.0 316.9,40.0 317.5,43.3 318.1,42.3 318.7,41.8 319.3,42.1 319.9,44.4 320.5,42.5 321.1,39.8 321.7,39.2 322.3,39.2 322.9,41.2 323.5,39.2 324.1,40.6 324.7,43.5 325.3,41.1 325.9,42.0 326.5,41.1 327.1,41.4 327.7,39.8 328.3,41.1 328.9,41.9 329.5,40.3 330.1,41.2 330.7,42.0 331.3,40.0 331.9,42.2 332.5,43.1 333.1,43.3 333.7,44.5 334.3,42.5 334.9,39.3 335.5,42.6 336.1,42.4 336.7,43.7 337.3,42.6 337.9,39.3 338.5,40.1 339.1,42.5 339.7,42.2 340.3,43.3 340.9,43.6 341.5,43.8 342.1,43.4 342.7,41.4 343.3,40.6 343.9,40.9 344.5,42.3 345.1,44.0 345.7,42.6 346.3,43.0 346.9,40.5 347.5,40.4 348.1,40.5 348.7,42.7 349.3,44.5 349.9,40.5 350.5,40.0 351.1,43.7 351.7,41.7 352.3,40.2 352.9,42.6 353.5,39.4 354.1,42.1 354.7,43.2 355.3,39.9 355.9,41.1 356.5,42.4 357.1,41.2 357.7,44.0 358.2,39.8 358.8,42.4 359.4,41.7 360.0,42.2 360.6,40.9 361.2,40.5 361.8,42.6 362.4,40.9 363.0,42.2 363.6,43.0 364.2,42.7 364.8,43.7 365.4,43.1 366.0,40.6 366.6,41.4 367.2,39.9 367.8,41.1 368.4,43.9 369.0,45.3 369.6,43.4 370.2,41.6 370.8,41.9 371.4,42.8 372.0,41.0 372.6,44.6 373.2,44.3 373.8,41.3 374.4,39.2 375.0,40.7 375.6,43.0 376.2,40.9 376.8,40.2 377.4,40.2 378.0,42.4 378.6,43.1 379.2,41.7 379.8,40.6 380.4,39.2 381.0,39.2 381.6,42.4 382.2,42.8 382.8,42.1 383.4,42.0 384.0,40.9 384.6,40.8 385.2,40.8 385.8,39.6 386.4,41.9 387.0,44.0 387.6,44.9 388.2,44.2 388.8,44.3 389.4,44.9 390.0,41.3 390.6,41.4 391.2,42.7 391.8,43.8 392.4,44.8 393.0,43.1 393.6,39.8 394.2,44.6 394.8,42.0 395.4,40.5 396.0,41.4 396.6,42.0 397.2,41.0 397.8,43.1 398.4,40.8 399.0,39.6 399.6,43.2 400.2,43.3 400.8,41.5 401.4,39.7 402.0,39.2 402.6,40.5 403.2,43.0 403.8,43.7 404.4,41.6 405.0,41.4 405.6,43.4 406.2,41.9 406.8,40.9 407.4,40.3 408.0,42.8 408.6,41.6 409.2,43.6 409.8,42.8 410.4,41.5 411.0,39.2 411.6,39.2 412.2,40.1 412.8,40.6 413.4,40.4 414.0,43.3 414.6,41.4 415.2,43.0 415.8,39.2 416.4,39.2 417.0,40.8 417.6,42.3 418.2,39.3 418.8,40.8 419.4,41.3 420.0,41.3 420.6,44.1 421.2,41.3 421.8,39.9 422.4,40.8 423.0,41.7 423.6,43.0 424.2,41.0 424.8,41.2 425.4,41.8 426.0,42.4 426.6,40.2 427.2,39.4 427.8,40.4 428.4,39.8 429.0,39.2 429.6,39.2 430.2,40.9 430.8,42.1 431.4,42.5 432.0,41.7 432.6,40.6 433.2,40.2 433.8,42.1 434.4,41.9 435.0,42.9 435.6,40.2 436.2,41.8 436.8,41.5 437.4,42.9 438.0,42.7 438.6,42.4 439.2,39.2 439.8,40.7 440.4,42.2 441.0,43.5 441.6,42.8 442.2,40.5 442.8,39.4 443.4,43.8 443.9,43.7 444.5,42.5 445.1,43.3 445.7,44.5 446.3,42.0 446.9,41.0 447.5,43.9 448.1,41.6 448.7,39.8 449.3,40.0 449.9,41.4 450.5,39.2 451.1,40.4 451.7,42.5 452.3,40.8 452.9,42.9 453.5,41.1 454.1,43.2 454.7,41.1 455.3,42.0 455.9,39.9 456.5,40.1 457.1,40.8 457.7,41.1 458.3,40.6 458.9,44.1 459.5,41.5 460.1,40.8 460.7,40.4 461.3,39.2 461.9,39.2 462.5,40.1 463.1,40.4 463.7,40.7 464.3,39.8 464.9,43.9 465.5,39.9 466.1,43.0 466.7,45.9 467.3,44.2 467.9,42.3 468.5,41.5 469.1,41.5 469.7,40.4 470.3,41.5 470.9,42.5 471.5,45.0 472.1,41.3 472.7,40.1 473.3,42.7 473.9,45.2 474.5,43.9 475.1,39.7 475.7,42.4 476.3,43.2 476.9,43.0 477.5,41.1 478.1,42.7 478.7,43.7 479.3,44.4 479.9,42.0 480.5,40.2 481.1,41.3 481.7,40.3 482.3,41.1 482.9,41.4 483.5,41.4 484.1,41.3 484.7,39.9 485.3,40.8 485.9,42.4 486.5,41.7 487.1,41.6 487.7,40.9 488.3,41.1 488.9,41.5 489.5,43.8 490.1,41.2 490.7,39.9 491.3,42.9 491.9,39.5 492.5,40.8 493.1,42.5 493.7,44.3 494.3,40.9 494.9,43.1 495.5,42.6 496.1,41.3 496.7,43.5 497.3,43.9 497.9,43.9 498.5,42.1 499.1,40.7 499.7,40.7 500.3,41.0 500.9,42.1 501.5,41.8 502.1,42.1 502.7,39.2 503.3,41.4 503.9,45.1 504.5,43.5 505.1,39.9 505.7,43.5 506.3,42.7 506.9,41.5 507.5,43.0 508.1,39.8 508.7,39.2 509.3,42.1 509.9,40.4 510.5,43.1 511.1,43.5 511.7,41.5 512.3,41.4 512.9,42.3 513.5,41.0 514.1,44.0 514.7,43.8 515.3,43.4 515.9,40.6 516.5,40.0 517.1,40.8 517.7,43.5 518.3,41.7 518.9,41.4 519.5,44.4 520.1,43.3 520.7,40.7 521.3,40.3 521.9,40.9 522.5,40.6 523.1,40.9 523.7,41.4 524.3,42.1 524.9,43.2 525.5,42.5 526.1,41.7 526.7,39.2 527.3,40.5 527.9,41.7 528.5,42.1 529.1,42.0 529.6,42.0 530.2,40.9 530.8,41.3 531.4,40.6 532.0,42.4 532.6,41.1 533.2,40.5 533.8,43.2 534.4,41.7 535.0,41.3 535.6,42.3 536.2,43.1 536.8,44.4 537.4,40.7 538.0,43.2 538.6,43.7 539.2,41.6 539.8,44.1 540.4,40.6 541.0,40.5 541.6,40.6 542.2,42.1 542.8,44.2 543.4,44.6 544.0,40.1 544.6,42.1 545.2,42.1 545.8,39.5 546.4,42.2 547.0,42.3 547.6,42.2 548.2,42.3 548.8,43.5 549.4,42.5 550.0,39.6 550.6,41.0 551.2,46.8 551.8,45.6 552.4,41.8 553.0,41.9 553.6,42.0 554.2,40.7 554.8,43.8 555.4,40.3 556.0,40.9 556.6,40.7 557.2,40.8 557.8,40.3 558.4,42.0 559.0,42.3 559.6,40.5 560.2,41.5 560.8,43.2 561.4,39.5 562.0,39.2 562.6,39.2 563.2,41.0 563.8,41.2 564.4,42.5 565.0,43.3 565.6,41.8 566.2,41.6 566.8,42.1 567.4,39.5 568.0,43.9 568.6,43.7 569.2,42.6 569.8,39.9 570.4,41.8 571.0,42.5 571.6,43.4 572.2,43.6 572.8,43.6 573.4,40.3 574.0,40.1 574.6,40.1 575.2,41.6 575.8,39.2 576.4,43.1 577.0,45.3 577.6,42.7 578.2,41.3 578.8,40.7 579.4,42.8 580.0,40.5 580.6,39.2 581.2,42.7 581.8,43.6 582.4,44.5 583.0,41.5 583.6,40.0 584.2,39.9 584.8,39.6 585.4,39.2 586.0,40.7 586.6,40.4 587.2,43.1 587.8,43.1 588.4,41.8 589.0,42.7 589.6,40.6 590.2,39.2 590.8,40.8 591.4,42.9 592.0,42.6 592.6,40.0 593.2,42.4 593.8,41.8 594.4,42.0 595.0,41.3 595.6,40.1 596.2,42.6 596.8,43.6 597.4,39.7 598.0,40.6 598.6,40.4 599.2,41.2 599.8,40.0 600.4,39.2 601.0,39.2 601.6,41.7 602.2,42.2 602.8,41.1 603.4,41.0 604.0,40.9 604.6,43.3 605.2,45.4 605.8,41.4 606.4,40.0 607.0,39.8 607.6,39.2 608.2,39.9 608.8,41.7 609.4,40.2 610.0,41.1 610.6,39.6 611.2,40.7 611.8,40.8 612.4,41.1 613.0,41.9 613.6,44.0 614.2,42.7 614.8,45.0 615.3,41.2 615.9,39.2 616.5,39.2 617.1,40.6 617.7,43.1 618.3,43.7 618.9,39.5 619.5,43.0 620.1,41.4 620.7,45.0 621.3,42.2 621.9,40.5 622.5,40.9 623.1,41.8 623.7,43.2 624.3,43.0 624.9,40.2 625.5,40.7 626.1,41.7 626.7,41.6 627.3,42.7 627.9,39.9 628.5,39.5 629.1,42.4 629.7,41.4 630.3,40.1 630.9,41.7 631.5,39.2 632.1,39.2 632.7,41.3 633.3,39.6 633.9,39.2 634.5,42.9 635.1,41.1 635.7,41.7 636.3,41.8 636.9,40.7 637.5,42.6 638.1,44.4 638.7,44.3 639.3,41.9 639.9,40.6 640.5,41.5 641.1,41.9 641.7,41.3 642.3,39.4 642.9,40.6 643.5,42.7 644.1,41.9 644.7,40.0 645.3,42.3 645.9,42.4 646.5,42.1 647.1,43.0 647.7,41.2 648.3,44.3 648.9,40.1 649.5,42.2 650.1,43.6 650.7,42.1 651.3,44.1 651.9,41.0 652.5,40.4 653.1,42.4 653.7,42.1 654.3,40.4 654.9,42.4 655.5,41.7 656.1,40.5 656.7,39.2" fill="none" stroke="#ff0000" stroke-width="2.4" stroke-linejoin="round" stroke-linecap="butt"/>
<polyline points="58.6,321.2 59.2,321.1 59.8,321.5 60.4,321.1 61.0,321.4 61.6,321.8 62.2,321.5 62.8,321.1 63.4,321.2 64.0,321.6 64.6,321.1 65.2,321.2 65.8,321.1 66.4,321.2 67.0,321.6 67.6,321.2 68.2,321.4 68.8,320.8 69.4,321.0 70.0,321.3 70.6,321.6 71.2,321.3 71.8,321.3 72.4,321.5 73.0,319.6 73.6,319.6 74.2,318.2 74.8,319.0 75.4,315.7 76.0,315.6 76.6,313.2 77.2,310.2 77.8,308.6 78.4,308.3 79.0,305.4 79.6,301.5 80.2,298.4 80.8,297.4 81.4,296.5 82.0,294.1 82.6,293.4 83.2,290.7 83.8,289.9 84.4,287.3 85.0,285.2 85.6,282.8 86.2,281.5 86.8,278.7 87.4,277.6 88.0,275.1 88.6,273.5 89.2,273.2 89.8,269.8 90.4,267.4 91.0,265.6 91.6,262.9 92.2,261.6 92.8,257.9 93.4,255.5 94.0,253.1 94.6,249.4 95.2,248.6 95.8,246.9 96.4,245.2 97.0,242.3 97.6,240.7 98.2,237.0 98.8,235.9 99.4,233.5 100.0,230.3 100.6,229.2 101.2,228.2 101.7,225.9 102.3,225.0 102.9,222.9 103.5,221.9 104.1,220.8 104.7,218.4 105.3,216.7 105.9,216.3 106.5,215.6 107.1,214.1 107.7,213.9 108.3,211.4 108.9,209.8 109.5,206.3 110.1,206.7 110.7,206.1 111.3,203.1 111.9,202.2 112.5,200.8 113.1,199.3 113.7,198.0 114.3,197.0 114.9,194.8 115.5,193.8 116.1,193.3 116.7,191.9 117.3,191.1 117.9,188.2 118.5,185.6 119.1,183.5 119.7,181.7 120.3,180.7 120.9,177.0 121.5,177.9 122.1,176.5 122.7,175.5 123.3,173.6 123.9,172.0 124.5,167.4 125.1,168.4 125.7,170.5 126.3,168.1 126.9,167.6 127.5,163.0 128.1,161.0 128.7,162.3 129.3,160.1 129.9,159.8 130.5,157.6 131.1,154.7 131.7,156.6 132.3,156.8 132.9,152.8 133.5,151.5 134.1,150.0 134.7,148.6 135.3,150.3 135.9,150.8 136.5,145.5 137.1,146.1 137.7,146.7 138.3,146.0 138.9,142.4 139.5,143.0 140.1,142.5 140.7,141.1 141.3,142.6 141.9,142.8 142.5,141.7 143.1,141.0 143.7,139.1 144.3,138.6 144.9,136.2 145.5,135.5 146.1,133.7 146.7,131.1 147.3,128.6 147.9,127.7 148.5,129.1 149.1,128.7 149.7,128.6 150.3,125.5 150.9,124.0 151.5,126.6 152.1,126.1 152.7,128.2 153.3,128.9 153.9,125.7 154.5,123.5 155.1,119.5 155.7,120.7 156.3,118.3 156.9,115.9 157.5,115.4 158.1,112.5 158.7,115.3 159.3,114.1 159.9,116.3 160.5,115.0 161.1,112.1 161.7,108.4 162.3,108.4 162.9,107.0 163.5,107.6 164.1,104.1 164.7,106.1 165.3,105.3 165.9,105.0 166.5,103.5 167.1,103.6 167.7,107.4 168.3,106.8 168.9,106.2 169.5,105.4 170.1,105.3 170.7,105.2 171.3,101.2 171.9,106.4 172.5,106.0 173.1,104.4 173.7,104.2 174.3,106.7 174.9,107.8 175.5,108.2 176.1,109.1 176.7,108.5 177.3,111.2 177.9,111.2 178.5,109.1 179.1,106.5 179.7,103.2 180.3,101.5 180.9,103.4 181.5,104.2 182.1,102.2 182.7,96.0 183.3,97.8 183.9,95.6 184.5,92.6 185.1,95.1 185.7,94.0 186.3,93.5 186.9,92.9 187.4,88.9 188.0,87.6 188.6,91.1 189.2,87.4 189.8,88.4 190.4,87.8 191.0,87.9 191.6,89.8 192.2,88.6 192.8,88.5 193.4,83.9 194.0,83.1 194.6,86.4 195.2,88.6 195.8,86.2 196.4,88.0 197.0,85.3 197.6,82.3 198.2,81.1 198.8,82.3 199.4,81.5 200.0,78.8 200.6,75.8 201.2,76.0 201.8,72.9 202.4,73.2 203.0,74.3 203.6,74.6 204.2,72.7 204.8,71.9 205.4,75.7 206.0,72.4 206.6,71.9 207.2,71.8 207.8,70.3 208.4,68.1 209.0,64.9 209.6,66.5 210.2,67.0 210.8,67.0 211.4,63.9 212.0,65.1 212.6,63.8 213.2,62.1 213.8,62.5 214.4,62.9 215.0,61.9 215.6,59.9 216.2,60.6 216.8,59.9 217.4,59.2 218.0,60.0 218.6,59.4 219.2,59.9 219.8,58.1 220.4,59.4 221.0,62.7 221.6,60.6 222.2,56.8 222.8,56.8 223.4,55.3 224.0,51.9 224.6,53.1 225.2,51.4 225.8,50.0 226.4,49.7 227.0,52.4 227.6,52.3 228.2,48.4 228.8,50.9 229.4,49.5 230.0,45.9 230.6,50.0 231.2,52.0 231.8,44.8 232.4,46.3 233.0,46.9 233.6,43.8 234.2,47.1 234.8,45.6 235.4,47.3 236.0,47.7 236.6,46.1 237.2,45.2 237.8,44.3 238.4,44.5 239.0,46.9 239.6,46.0 240.2,42.9 240.8,44.4 241.4,45.0 242.0,43.0 242.6,42.5 243.2,42.9 243.8,45.6 244.4,45.3 245.0,43.2 245.6,42.7 246.2,46.0 246.8,45.2 247.4,44.2 248.0,42.5 248.6,44.4 249.2,39.5 249.8,42.4 250.4,41.7 251.0,39.4 251.6,41.4 252.2,41.7 252.8,43.0 253.4,42.5 254.0,44.4 254.6,43.2 255.2,43.0 255.8,44.0 256.4,41.2 257.0,42.1 257.6,45.2 258.2,41.9 258.8,43.6 259.4,41.9 260.0,43.6 260.6,43.0 261.2,41.4 261.8,39.6 262.4,44.4 263.0,43.3 263.6,42.7 264.2,40.8 264.8,42.4 265.4,41.5 266.0,40.0 266.6,41.0 267.2,42.9 267.8,43.2 268.4,42.9 269.0,42.4 269.6,43.7 270.2,42.5 270.8,41.6 271.4,43.1 272.0,43.2 272.6,41.9 273.1,41.4 273.7,44.5 274.3,43.9 274.9,40.6 275.5,42.4 276.1,44.1 276.7,42.1 277.3,40.0 277.9,43.2 278.5,44.1 279.1,42.6 279.7,40.1 280.3,42.9 280.9,41.5 281.5,40.6 282.1,41.3 282.7,42.6 283.3,41.4 283.9,41.8 284.5,41.0 285.1,41.6 285.7,42.5 286.3,44.9 286.9,41.8 287.5,42.9 288.1,45.7 288.7,42.9 289.3,42.0 289.9,43.1 290.5,46.4 291.1,44.3 291.7,44.1 292.3,43.6 292.9,46.0 293.5,42.4 294.1,41.4 294.7,41.4 295.3,42.4 295.9,42.3 296.5,40.7 297.1,41.5 297.7,42.9 298.3,41.9 298.9,41.0 299.5,40.3 300.1,41.6 300.7,43.6 301.3,43.3 301.9,42.1 302.5,41.6 303.1,41.2 303.7,45.2 304.3,44.2 304.9,44.1 305.5,40.8 306.1,40.9 306.7,41.5 307.3,41.2 307.9,42.9 308.5,41.7 309.1,42.1 309.7,42.2 310.3,42.3 310.9,40.7 311.5,40.8 312.1,44.5 312.7,43.5 313.3,42.2 313.9,41.8 314.5,44.9 315.1,44.2 315.7,42.7 316.3,39.9 316.9,43.4 317.5,43.2 318.1,42.5 318.7,42.5 319.3,42.2 319.9,42.4 320.5,42.6 321.1,41.9 321.7,41.8 322.3,41.6 322.9,41.9 323.5,44.0 324.1,42.3 324.7,41.9 325.3,41.0 325.9,40.8 326.5,40.0 327.1,43.3 327.7,42.7 328.3,42.2 328.9,43.4 329.5,43.0 330.1,43.1 330.7,42.7 331.3,39.2 331.9,41.6 332.5,40.3 333.1,43.3 333.7,42.3 334.3,43.2 334.9,41.6 335.5,39.3 336.1,39.2 336.7,40.5 337.3,41.5 337.9,42.1 338.5,41.4 339.1,40.5 339.7,44.6 340.3,43.4 340.9,43.7 341.5,41.3 342.1,43.8 342.7,41.6 343.3,44.2 343.9,43.9 344.5,40.0 345.1,40.6 345.7,43.9 346.3,45.4 346.9,44.0 347.5,41.6 348.1,42.5 348.7,43.7 349.3,41.4 349.9,40.4 350.5,43.8 351.1,42.9 351.7,43.3 352.3,40.8 352.9,42.1 353.5,43.7 354.1,44.9 354.7,41.7 355.3,42.6 355.9,42.2 356.5,42.5 357.1,42.2 357.7,45.1 358.2,43.9 358.8,41.6 359.4,39.4 360.0,41.5 360.6,42.5 361.2,43.5 361.8,43.6 362.4,43.0 363.0,43.6 363.6,42.3 364.2,41.8 364.8,39.3 365.4,41.8 366.0,40.8 366.6,42.5 367.2,40.4 367.8,39.2 368.4,42.9 369.0,44.0 369.6,40.9 370.2,42.0 370.8,42.6 371.4,41.6 372.0,41.5 372.6,40.2 373.2,41.5 373.8,43.3 374.4,44.5 375.0,45.5 375.6,44.1 376.2,41.2 376.8,44.3 377.4,42.3 378.0,40.3 378.6,40.8 379.2,39.6 379.8,40.5 380.4,39.9 381.0,43.0 381.6,43.3 382.2,39.4 382.8,41.3 383.4,42.2 384.0,42.8 384.6,39.9 385.2,41.1 385.8,41.6 386.4,43.2 387.0,42.4 387.6,43.0 388.2,42.5 388.8,42.0 389.4,43.2 390.0,43.6 390.6,41.5 391.2,43.4 391.8,40.0 392.4,40.0 393.0,43.7 393.6,40.3 394.2,42.9 394.8,40.6 395.4,42.7 396.0,41.5 396.6,43.6 397.2,41.6 397.8,41.7 398.4,39.7 399.0,41.0 399.6,43.5 400.2,42.2 400.8,43.2 401.4,41.8 402.0,39.5 402.6,39.5 403.2,41.9 403.8,43.5 404.4,41.9 405.0,39.2 405.6,42.4 406.2,44.9 406.8,45.1 407.4,44.2 408.0,41.0 408.6,42.8 409.2,43.5 409.8,41.7 410.4,40.8 411.0,42.5 411.6,43.5 412.2,42.0 412.8,41.4 413.4,45.0 414.0,44.4 414.6,39.5 415.2,41.1 415.8,42.0 416.4,44.6 417.0,44.2 417.6,42.7 418.2,40.4 418.8,42.3 419.4,44.5 420.0,40.0 420.6,39.3 421.2,40.9 421.8,44.0 422.4,43.6 423.0,42.9 423.6,41.8 424.2,39.8 424.8,44.2 425.4,43.8 426.0,42.7 426.6,43.3 427.2,43.6 427.8,44.8 428.4,42.7 429.0,42.8 429.6,42.0 430.2,41.0 430.8,42.6 431.4,42.6 432.0,42.1 432.6,43.0 433.2,42.6 433.8,45.2 434.4,44.0 435.0,41.7 435.6,41.8 436.2,41.4 436.8,44.4 437.4,43.5 438.0,42.7 438.6,42.6 439.2,42.4 439.8,40.4 440.4,42.8 441.0,42.9 441.6,41.6 442.2,41.5 442.8,41.7 443.4,39.7 443.9,41.2 444.5,42.8 445.1,43.7 445.7,40.9 446.3,43.0 446.9,42.1 447.5,42.6 448.1,39.2 448.7,41.2 449.3,44.9 449.9,42.7 450.5,44.6 451.1,43.4 451.7,41.6 452.3,44.1 452.9,42.2 453.5,42.3 454.1,41.5 454.7,43.6 455.3,41.8 455.9,42.6 456.5,40.9 457.1,42.0 457.7,41.1 458.3,40.0 458.9,40.4 459.5,42.1 460.1,41.3 460.7,42.2 461.3,41.4 461.9,40.0 462.5,43.7 463.1,44.3 463.7,42.1 464.3,42.9 464.9,40.5 465.5,40.7 466.1,41.3 466.7,42.4 467.3,43.4 467.9,44.0 468.5,43.5 469.1,42.8 469.7,43.7 470.3,40.9 470.9,41.5 471.5,44.9 472.1,46.7 472.7,41.7 473.3,44.7 473.9,47.6 474.5,45.6 475.1,42.2 475.7,40.1 476.3,40.3 476.9,39.5 477.5,39.2 478.1,39.3 478.7,43.5 479.3,43.1 479.9,43.4 480.5,42.5 481.1,42.9 481.7,41.6 482.3,39.7 482.9,42.9 483.5,41.6 484.1,44.0 484.7,44.4 485.3,41.2 485.9,42.4 486.5,42.0 487.1,40.4 487.7,44.1 488.3,42.2 488.9,40.3 489.5,43.6 490.1,42.0 490.7,40.7 491.3,40.6 491.9,40.9 492.5,40.6 493.1,41.2 493.7,41.0 494.3,41.8 494.9,43.7 495.5,42.4 496.1,42.3 496.7,40.5 497.3,41.2 497.9,41.4 498.5,41.8 499.1,41.4 499.7,43.0 500.3,42.2 500.9,43.4 501.5,43.3 502.1,43.7 502.7,39.2 503.3,41.1 503.9,43.8 504.5,43.1 505.1,42.0 505.7,42.8 506.3,41.2 506.9,41.2 507.5,41.2 508.1,46.3 508.7,41.8 509.3,41.6 509.9,40.9 510.5,43.2 511.1,43.9 511.7,44.2 512.3,41.9 512.9,42.4 513.5,45.1 514.1,43.6 514.7,42.8 515.3,44.3 515.9,43.2 516.5,42.8 517.1,43.7 517.7,44.8 518.3,40.9 518.9,41.6 519.5,41.9 520.1,43.1 520.7,42.4 521.3,43.4 521.9,42.7 522.5,42.1 523.1,41.6 523.7,43.3 524.3,43.4 524.9,41.0 525.5,44.2 526.1,42.4 526.7,42.3 527.3,41.4 527.9,43.1 528.5,44.0 529.1,42.7 529.6,44.7 530.2,44.3 530.8,42.6 531.4,42.5 532.0,44.3 532.6,40.8 533.2,41.9 533.8,40.2 534.4,40.4 535.0,42.1 535.6,43.3 536.2,44.4 536.8,40.8 537.4,39.7 538.0,41.8 538.6,42.5 539.2,44.0 539.8,44.2 540.4,42.5 541.0,40.6 541.6,42.3 542.2,41.0 542.8,41.6 543.4,42.6 544.0,43.8 544.6,43.4 545.2,44.1 545.8,41.2 546.4,41.6 547.0,43.9 547.6,43.9 548.2,44.5 548.8,42.3 549.4,41.6 550.0,43.7 550.6,43.1 551.2,42.2 551.8,44.7 552.4,42.0 553.0,39.5 553.6,39.5 554.2,42.2 554.8,42.3 555.4,41.0 556.0,40.8 556.6,39.8 557.2,41.5 557.8,41.6 558.4,41.3 559.0,39.8 559.6,43.0 560.2,40.4 560.8,41.5 561.4,41.9 562.0,43.4 562.6,42.6 563.2,44.1 563.8,46.3 564.4,42.7 565.0,44.1 565.6,42.7 566.2,44.2 566.8,43.1 567.4,43.2 568.0,44.9 568.6,42.7 569.2,43.6 569.8,45.5 570.4,39.8 571.0,40.9 571.6,41.5 572.2,41.8 572.8,41.0 573.4,42.5 574.0,40.9 574.6,40.7 575.2,42.7 575.8,42.2 576.4,42.2 577.0,44.3 577.6,42.0 578.2,41.9 578.8,40.3 579.4,41.8 580.0,43.4 580.6,42.3 581.2,43.5 581.8,45.9 582.4,43.4 583.0,43.9 583.6,40.5 584.2,41.3 584.8,40.8 585.4,41.5 586.0,42.3 586.6,41.6 587.2,44.3 587.8,41.4 588.4,42.7 589.0,45.4 589.6,42.8 590.2,41.5 590.8,42.5 591.4,40.0 592.0,40.1 592.6,43.1 593.2,43.6 593.8,42.9 594.4,42.9 595.0,41.0 595.6,40.3 596.2,40.9 596.8,41.1 597.4,42.2 598.0,42.6 598.6,42.8 599.2,39.2 599.8,40.2 600.4,41.3 601.0,43.5 601.6,44.9 602.2,43.9 602.8,43.2 603.4,42.8 604.0,41.5 604.6,42.6 605.2,41.3 605.8,41.2 606.4,41.1 607.0,42.1 607.6,41.1 608.2,41.8 608.8,42.0 609.4,42.5 610.0,42.4 610.6,41.8 611.2,41.3 611.8,43.3 612.4,42.9 613.0,42.0 613.6,40.5 614.2,41.8 614.8,41.1 615.3,40.7 615.9,41.6 616.5,40.1 617.1,43.7 617.7,44.8 618.3,44.5 618.9,43.9 619.5,43.4 620.1,42.8 620.7,41.9 621.3,43.0 621.9,43.1 622.5,41.6 623.1,42.4 623.7,42.1 624.3,43.2 624.9,44.4 625.5,42.7 626.1,42.4 626.7,41.8 627.3,42.4 627.9,43.2 628.5,40.5 629.1,44.3 629.7,45.7 630.3,43.9 630.9,43.2 631.5,41.9 632.1,43.1 632.7,42.5 633.3,41.9 633.9,41.7 634.5,44.7 635.1,42.7 635.7,44.0 636.3,41.2 636.9,43.5 637.5,43.5 638.1,41.8 638.7,42.4 639.3,42.4 639.9,41.5 640.5,43.1 641.1,43.2 641.7,41.1 642.3,43.0 642.9,42.5 643.5,44.2 644.1,42.8 644.7,42.8 645.3,41.4 645.9,39.3 646.5,45.1 647.1,44.4 647.7,43.1 648.3,42.6 648.9,44.6 649.5,43.0 650.1,43.7 650.7,42.7 651.3,43.2 651.9,39.2 652.5,41.3 653.1,41.8 653.7,46.0 654.3,44.2 654.9,42.4 655.5,40.0 656.1,43.2 656.7,42.2" fill="none" stroke="#000000" stroke-width="2.4" stroke-linejoin="round" stroke-linecap="butt"/></g>
<defs><clipPath id="c"><rect x="58.6" y="7.9" width="599.3" height="318.4"/></clipPath></defs>
<g stroke="#222" stroke-width="1.1"><line x1="58.6" y1="326.3" x2="58.6" y2="323.1"/><line x1="58.6" y1="7.9" x2="58.6" y2="11.1"/><line x1="178.5" y1="326.3" x2="178.5" y2="323.1"/><line x1="178.5" y1="7.9" x2="178.5" y2="11.1"/><line x1="298.3" y1="326.3" x2="298.3" y2="323.1"/><line x1="298.3" y1="7.9" x2="298.3" y2="11.1"/><line x1="418.2" y1="326.3" x2="418.2" y2="323.1"/><line x1="418.2" y1="7.9" x2="418.2" y2="11.1"/><line x1="538.0" y1="326.3" x2="538.0" y2="323.1"/><line x1="538.0" y1="7.9" x2="538.0" y2="11.1"/><line x1="657.9" y1="326.3" x2="657.9" y2="323.1"/><line x1="657.9" y1="7.9" x2="657.9" y2="11.1"/><line x1="58.6" y1="326.3" x2="61.8" y2="326.3"/><line x1="657.9" y1="326.3" x2="654.7" y2="326.3"/><line x1="58.6" y1="273.2" x2="61.8" y2="273.2"/><line x1="657.9" y1="273.2" x2="654.7" y2="273.2"/><line x1="58.6" y1="220.2" x2="61.8" y2="220.2"/><line x1="657.9" y1="220.2" x2="654.7" y2="220.2"/><line x1="58.6" y1="167.1" x2="61.8" y2="167.1"/><line x1="657.9" y1="167.1" x2="654.7" y2="167.1"/><line x1="58.6" y1="114.0" x2="61.8" y2="114.0"/><line x1="657.9" y1="114.0" x2="654.7" y2="114.0"/><line x1="58.6" y1="61.0" x2="61.8" y2="61.0"/><line x1="657.9" y1="61.0" x2="654.7" y2="61.0"/><line x1="58.6" y1="7.9" x2="61.8" y2="7.9"/><line x1="657.9" y1="7.9" x2="654.7" y2="7.9"/></g>
<rect x="518.3" y="185.4" width="128.6" height="129.5" rx="3.5" ry="3.5" fill="#fff" fill-opacity="0.85" stroke="#d4d4d4" stroke-width="1"/>
<line x1="526.4" y1="202.0" x2="572.3" y2="202.0" stroke="#0000ff" stroke-width="2.3"/>
<text transform="translate(589.0 209.5) scale(1.000 1)" font-size="21.5" text-anchor="start">V=4</text>
<line x1="526.4" y1="232.8" x2="572.3" y2="232.8" stroke="#008000" stroke-width="2.3"/>
<text transform="translate(589.0 240.3) scale(1.000 1)" font-size="21.5" text-anchor="start">V=7</text>
<line x1="526.4" y1="263.5" x2="572.3" y2="263.5" stroke="#ff0000" stroke-width="2.3"/>
<text transform="translate(589.0 271.0) scale(1.000 1)" font-size="21.5" text-anchor="start">V=10</text>
<line x1="526.4" y1="294.2" x2="572.3" y2="294.2" stroke="#000000" stroke-width="2.3"/>
<text transform="translate(589.0 301.7) scale(1.000 1)" font-size="21.5" text-anchor="start">V=15</text>
<g stroke-width="1" fill="none">
<line x1="58.1" y1="8.0" x2="658.4" y2="8.0" stroke="#444"/>
<line x1="58.1" y1="326.3" x2="658.5" y2="326.3" stroke="#222"/>
<line x1="58.6" y1="7.9" x2="58.6" y2="326.3" stroke="#444"/>
<line x1="657.9" y1="7.9" x2="657.9" y2="326.3" stroke="#333" stroke-width="1.1"/>
</g>
<text transform="translate(58.6 344.2) scale(0.968 1)" font-size="22.4" text-anchor="middle">0</text>
<text transform="translate(178.5 344.2) scale(0.968 1)" font-size="22.4" text-anchor="middle">5000</text>
<text transform="translate(298.3 344.2) scale(0.968 1)" font-size="22.4" text-anchor="middle">10000</text>
<text transform="translate(418.2 344.2) scale(0.968 1)" font-size="22.4" text-anchor="middle">15000</text>
<text transform="translate(538.0 344.2) scale(0.968 1)" font-size="22.4" text-anchor="middle">20000</text>
<text transform="translate(657.9 344.2) scale(0.968 1)" font-size="22.4" text-anchor="middle">25000</text>
<text transform="translate(56.0 333.9) scale(0.968 1)" font-size="22.4" text-anchor="end">0</text>
<text transform="translate(56.0 280.8) scale(0.968 1)" font-size="22.4" text-anchor="end">20</text>
<text transform="translate(56.0 227.8) scale(0.968 1)" font-size="22.4" text-anchor="end">40</text>
<text transform="translate(56.0 174.7) scale(0.968 1)" font-size="22.4" text-anchor="end">60</text>
<text transform="translate(56.0 121.6) scale(0.968 1)" font-size="22.4" text-anchor="end">80</text>
<text transform="translate(56.0 68.6) scale(0.968 1)" font-size="22.4" text-anchor="end">100</text>
<text transform="translate(56.0 15.5) scale(0.968 1)" font-size="22.4" text-anchor="end">120</text>
<text transform="translate(358.4 366.5) scale(1.000 1)" font-size="21.8" text-anchor="middle">Epoch</text>
<text transform="translate(15.6 166.9) rotate(-90) scale(1.000 1)" font-size="21.8" text-anchor="middle">Executed tasks per epoch</text>
</svg></body></html>
